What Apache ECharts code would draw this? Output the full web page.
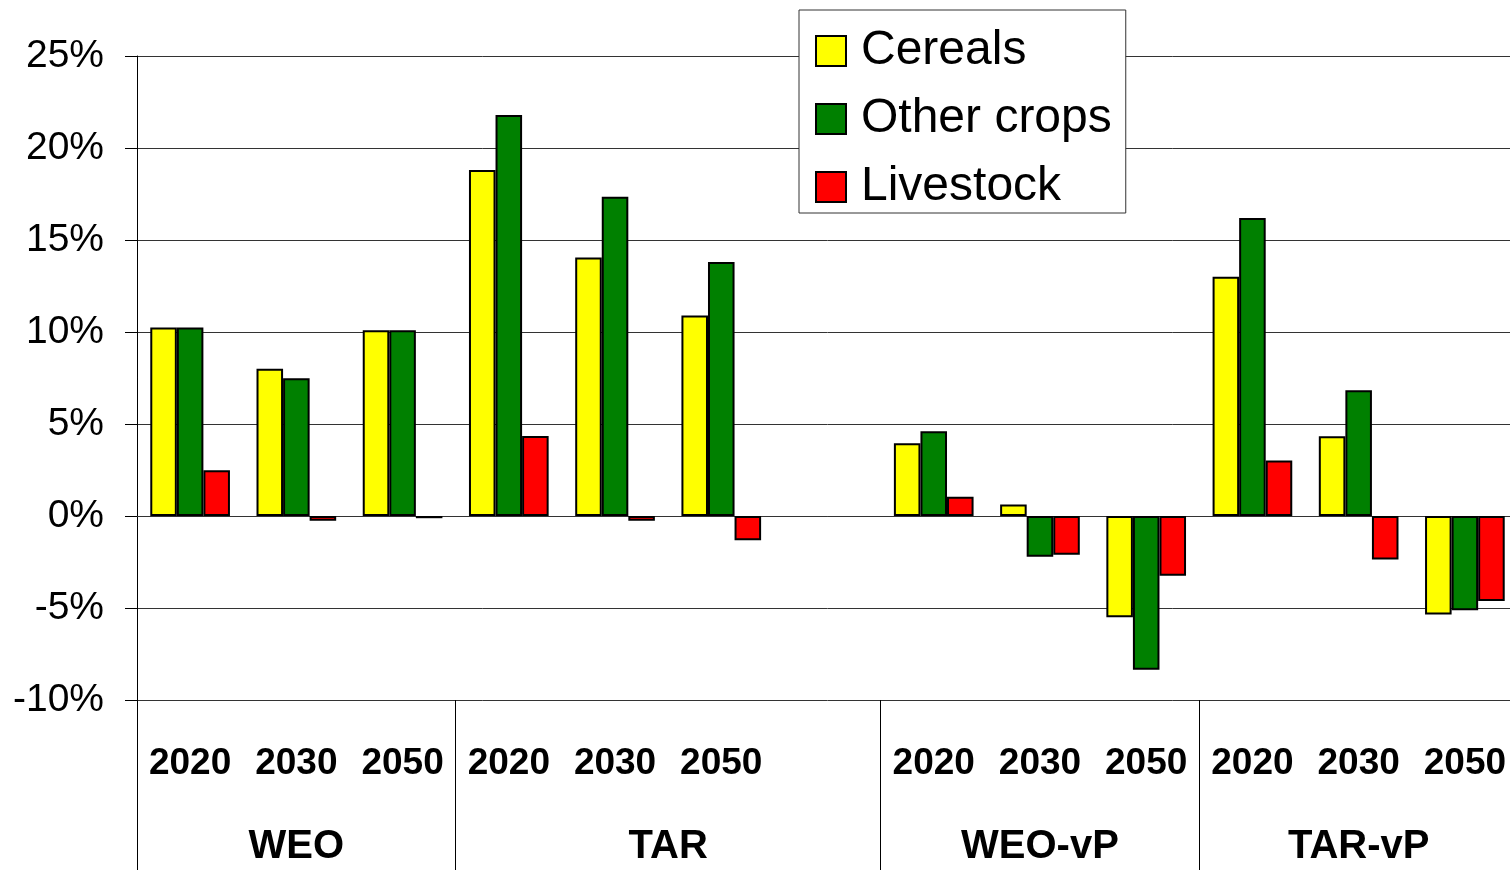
<!DOCTYPE html>
<html>
<head>
<meta charset="utf-8">
<script src="https://cdn.jsdelivr.net/npm/echarts@6/dist/echarts.min.js"></script>
<style>
  html, body { margin: 0; padding: 0; background: #fff; overflow: hidden; }
  /* the plot area runs a few pixels past the right edge of the view */
  #chart { width: 1518px; height: 870px; }
</style>
</head>
<body>
<div id="chart"></div>
<script>
// Year labels per category slot (empty slot separates TAR from WEO-vP)
const years = ['2020', '2030', '2050', '2020', '2030', '2050', '', '2020', '2030', '2050', '2020', '2030', '2050'];
// Scenario groups and the slot index where each begins
const groups = ['WEO', 'TAR', 'WEO-vP', 'TAR-vP'];
const groupStarts = [0, 3, 7, 10];

// Percentage change by commodity
const cereals    = [10.25, 8.0, 10.1, 18.8, 14.05, 10.9, null, 3.95, 0.63, -5.5, 13.0, 4.33, -5.35];
const otherCrops = [10.25, 7.48, 10.1, 21.8, 17.35, 13.8, null, 4.6, -2.22, -8.35, 16.2, 6.84, -5.12];
const livestock  = [2.48, -0.26, -0.12, 4.35, -0.26, -1.32, null, 1.04, -2.11, -3.25, 3.02, -2.37, -4.62];

const yTicks = { min: -10, max: 25, step: 5 };

const FONT = '"Liberation Sans", Arial, sans-serif';

// Group label sits in the middle of its span of slots
const groupCenters = groupStarts.map((s, i) => {
  const end = i + 1 < groupStarts.length ? groupStarts[i + 1] : years.length;
  return (s + end) / 2;
});

const chart = echarts.init(document.getElementById('chart'), null, { renderer: 'canvas' });

const barStyle = (color) => ({ color: color, borderColor: '#000', borderWidth: 2 });

chart.setOption({
  animation: false,
  backgroundColor: '#fff',
  textStyle: { fontFamily: FONT },
  grid: { left: 137, top: 56, bottom: 170, right: 0, containLabel: false },
  legend: {
    orient: 'vertical',
    left: 799,
    top: 10,
    padding: [17, 14, 2, 16],
    itemWidth: 30,
    itemHeight: 30,
    itemGap: 20,
    icon: 'rect',
    backgroundColor: '#fff',
    borderColor: '#333',
    borderWidth: 1,
    textStyle: { fontFamily: FONT, fontSize: 48, color: '#000', padding: [0, 0, 0, 10] },
    data: ['Cereals', 'Other crops', 'Livestock']
  },
  xAxis: [
    {
      type: 'category',
      data: years,
      position: 'bottom',
      boundaryGap: true,
      axisLine: { show: true, lineStyle: { color: '#333', width: 1 } },
      axisTick: { show: false },
      axisLabel: {
        interval: 0,
        margin: 45,
        fontFamily: FONT,
        fontSize: 37,
        fontWeight: 'bold',
        color: '#000'
      },
      splitLine: { show: false }
    },
    {
      type: 'value',
      min: 0,
      max: years.length,
      position: 'bottom',
      axisLine: { show: false },
      splitLine: { show: false },
      axisTick: {
        show: true,
        customValues: groupStarts,
        length: 170,
        lineStyle: { color: '#000', width: 1 }
      },
      axisLabel: {
        customValues: groupCenters,
        formatter: (v) => groups[groupCenters.indexOf(v)],
        margin: 127,
        fontFamily: FONT,
        fontSize: 40,
        fontWeight: 'bold',
        color: '#000'
      }
    }
  ],
  yAxis: {
    type: 'value',
    min: yTicks.min,
    max: yTicks.max,
    interval: yTicks.step,
    axisLine: { show: true, lineStyle: { color: '#000', width: 1 } },
    axisTick: { show: true, length: 12, lineStyle: { color: '#000', width: 1 } },
    axisLabel: {
      formatter: '{value}%',
      margin: 33,
      padding: [8, 0, 0, 0],
      fontFamily: FONT,
      fontSize: 39,
      color: '#000'
    },
    splitLine: { show: true, lineStyle: { color: '#333', width: 1 } }
  },
  series: [
    { name: 'Cereals', type: 'bar', xAxisIndex: 0, data: cereals, barGap: '0%', barCategoryGap: '25%', itemStyle: barStyle('#ffff00') },
    { name: 'Other crops', type: 'bar', xAxisIndex: 0, data: otherCrops, barGap: '0%', barCategoryGap: '25%', itemStyle: barStyle('#008000') },
    { name: 'Livestock', type: 'bar', xAxisIndex: 0, data: livestock, barGap: '0%', barCategoryGap: '25%', itemStyle: barStyle('#ff0000') }
  ]
});
</script>
</body>
</html>
